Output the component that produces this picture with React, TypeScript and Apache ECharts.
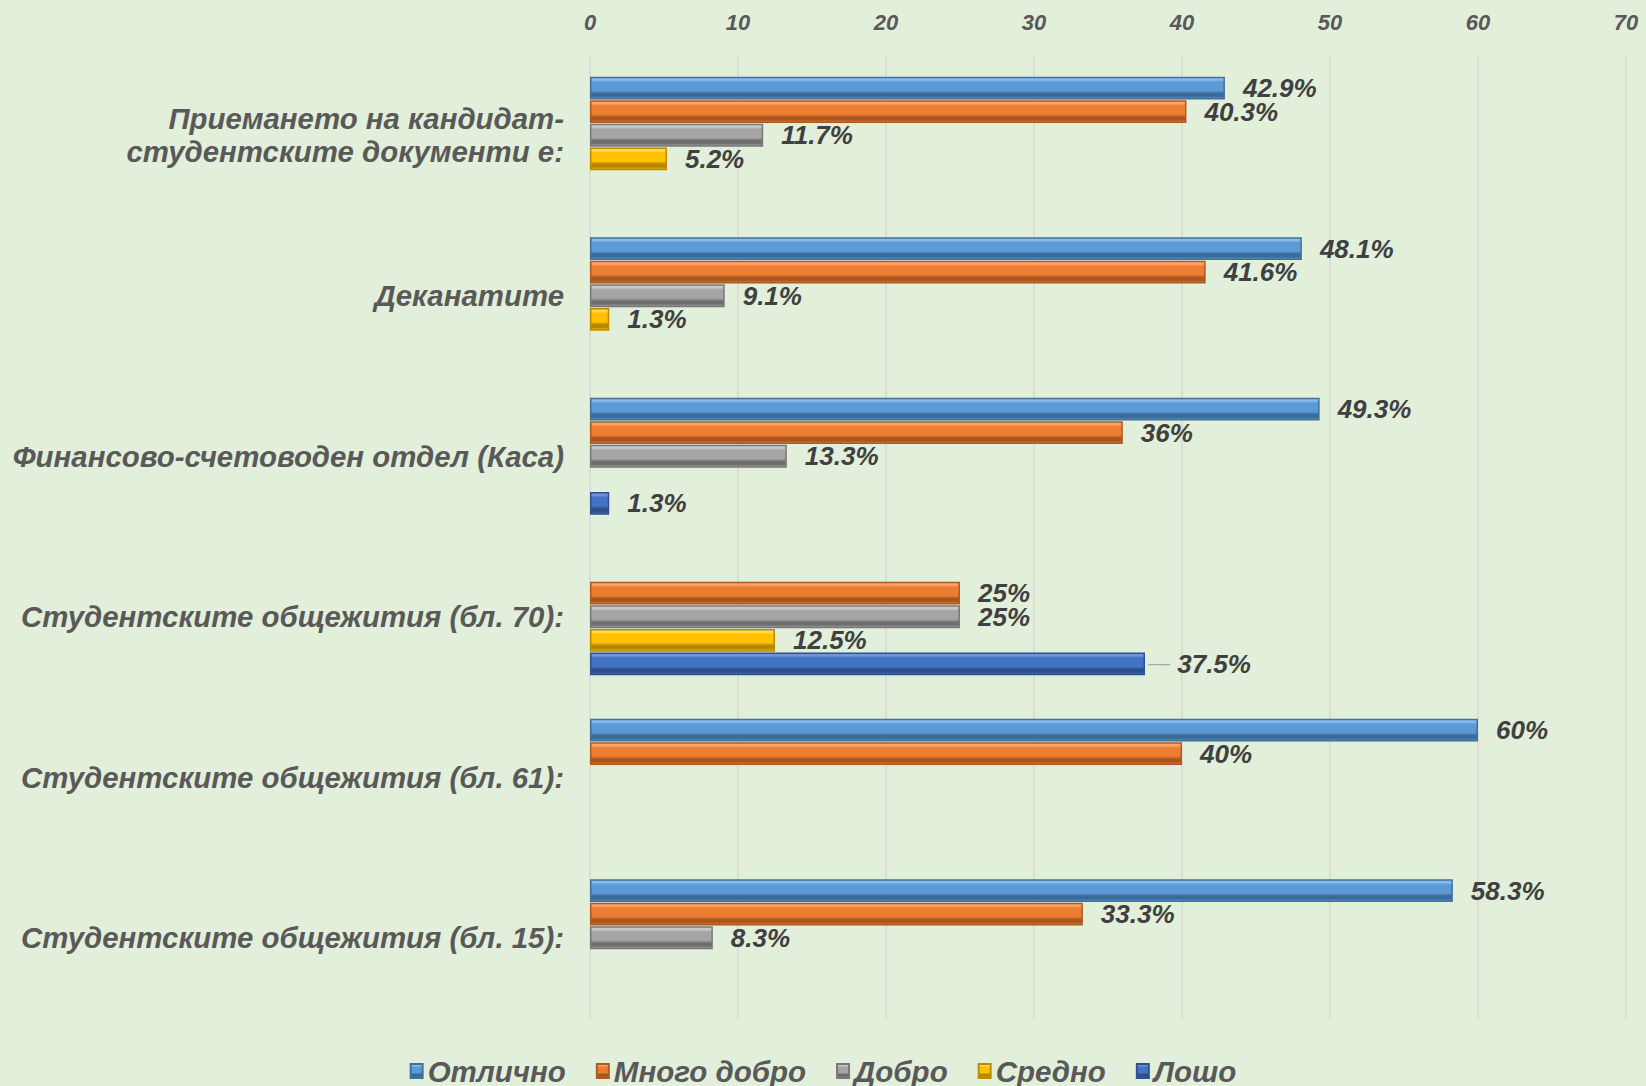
import React, { useEffect, useRef } from "react";
import * as echarts from "echarts";

const categories = [
  "Приемането на кандидат-\nстудентските документи е:",
  "Деканатите",
  "Финансово-счетоводен отдел (Каса)",
  "Студентските общежития (бл. 70):",
  "Студентските общежития (бл. 61):",
  "Студентските общежития (бл. 15):",
];

const seriesNames = ["Отлично", "Много добро", "Добро", "Средно", "Лошо"];

const excellent = [42.9, 48.1, 49.3, null, 60, 58.3];
const veryGood = [40.3, 41.6, 36, 25, 40, 33.3];
const good = [11.7, 9.1, 13.3, 25, null, 8.3];
const average = [5.2, 1.3, null, 12.5, null, null];
const poor = [null, null, 1.3, 37.5, null, null];

// data labels that are drawn with a short leader line in the reference
const leaderLabels = [{ series: 4, index: 3 }];

const xMin = 0;
const xMax = 70;
const xInterval = 10;

const palette = [
  { light: "#86BBEE", base: "#5B9BD5", dark: "#3A6A97", border: "#41719C" },
  { light: "#F9A66B", base: "#ED7D31", dark: "#A8561E", border: "#AE5A21" },
  { light: "#C8C8C8", base: "#A5A5A5", dark: "#6E6E6E", border: "#787878" },
  { light: "#FFD957", base: "#FFC000", dark: "#B38700", border: "#BC8C00" },
  { light: "#6E94DA", base: "#4472C4", dark: "#2C4F8C", border: "#2F528F" },
];

const seriesData = [excellent, veryGood, good, average, poor];

const FONT = "'Liberation Sans', Arial, sans-serif";

export default function App() {
  const ref = useRef<HTMLDivElement>(null);

  useEffect(() => {
    if (!ref.current) return;
    const chart = echarts.init(ref.current, null, { renderer: "svg" });

    const series = seriesNames.map((name, i) => {
      const p = palette[i];
      const data = seriesData[i].map((v, j) => {
        const lead = leaderLabels.some((l) => l.series === i && l.index === j);
        if (!lead || v === null) return v;
        return {
          value: v,
          label: {
            distance: 3,
            formatter: "{line|——} {c}%",
          },
        };
      });
      return {
        name,
        type: "bar",
        data,
        barCategoryGap: "27%",
        barGap: "3%",
        itemStyle: {
          color: new echarts.graphic.LinearGradient(0, 0, 0, 1, [
            { offset: 0, color: p.light },
            { offset: 0.12, color: p.light },
            { offset: 0.22, color: p.base },
            { offset: 0.62, color: p.base },
            { offset: 0.75, color: p.dark },
            { offset: 0.88, color: p.dark },
            { offset: 1, color: p.base },
          ]),
          borderColor: p.border,
          borderWidth: 1.5,
        },
        label: {
          show: true,
          position: "right",
          distance: 18,
          formatter: "{c}%",
          fontFamily: FONT,
          fontSize: 26,
          fontWeight: "bold",
          fontStyle: "italic",
          color: "#404040",
          rich: {
            line: {
              fontFamily: FONT,
              fontSize: 11,
              fontWeight: "bold",
              fontStyle: "normal",
              color: "#A8A8A8",
            },
          },
        },
      };
    });

    chart.setOption({
      animation: false,
      backgroundColor: "#E2EFDA",
      grid: { left: 590, right: 20, top: 55, bottom: 68, containLabel: false },
      xAxis: {
        type: "value",
        position: "top",
        min: xMin,
        max: xMax,
        interval: xInterval,
        axisLine: { show: false },
        axisTick: { show: false },
        splitLine: { show: true, lineStyle: { color: "#D4D9D0", width: 1.5 } },
        axisLabel: {
          margin: 22,
          fontFamily: FONT,
          fontSize: 22,
          fontWeight: "bold",
          fontStyle: "italic",
          color: "#595959",
        },
      },
      yAxis: {
        type: "category",
        inverse: true,
        data: categories,
        axisLine: { show: false },
        axisTick: { show: false },
        axisLabel: {
          margin: 26,
          fontFamily: FONT,
          fontSize: 29.4,
          lineHeight: 33,
          fontWeight: "bold",
          fontStyle: "italic",
          color: "#595959",
          align: "right",
        },
      },
      legend: {
        data: seriesNames,
        top: 1051,
        left: "center",
        icon: "rect",
        itemWidth: 12,
        itemHeight: 14,
        itemGap: 30,
        textStyle: {
          fontFamily: FONT,
          fontSize: 29.5,
          fontWeight: "bold",
          fontStyle: "italic",
          color: "#595959",
        },
      },
      series,
    });

    return () => chart.dispose();
  }, []);

  return (
    <div
      ref={ref}
      style={{ position: "fixed", left: 0, top: 0, width: 1646, height: 1086 }}
    />
  );
}
